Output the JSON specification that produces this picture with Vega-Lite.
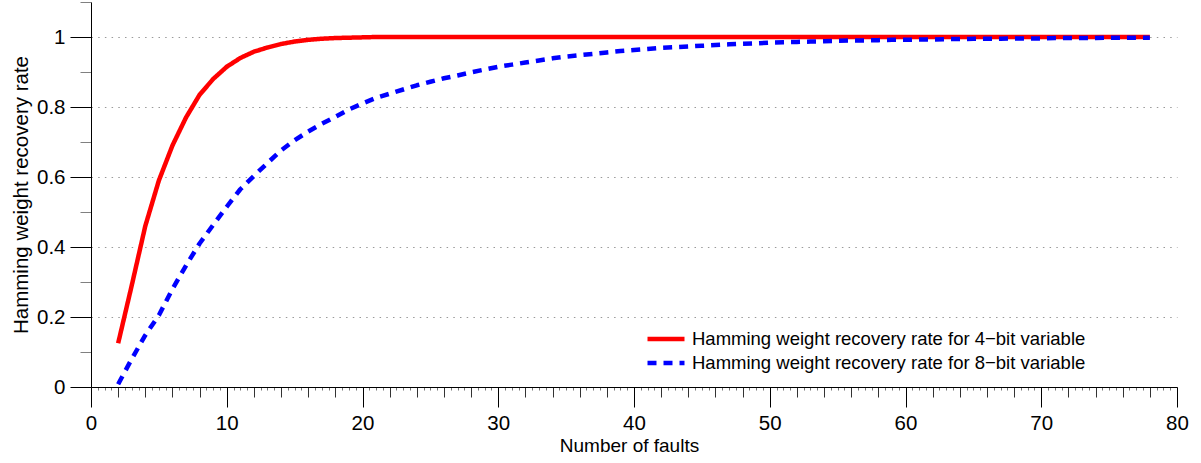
{
  "$schema": "https://vega.github.io/schema/vega-lite/v6.json",
  "width": 1086,
  "height": 385,
  "autosize": {"type": "none"},
  "padding": {"left": 91, "top": 2, "right": 24, "bottom": 76},
  "background": "white",
  "config": {
    "view": {"stroke": null},
    "font": "Liberation Sans",
    "axis": {
      "labelFont": "Liberation Sans",
      "titleFont": "Liberation Sans",
      "labelColor": "#000",
      "titleColor": "#000",
      "titleFontWeight": "normal",
      "domainColor": "#000",
      "domainWidth": 1,
      "tickWidth": 1
    },
    "legend": {
      "orient": "none",
      "legendX": 554,
      "legendY": 325,
      "padding": 0,
      "rowPadding": 0,
      "clipHeight": 24,
      "symbolType": "stroke",
      "symbolSize": 1369,
      "symbolStrokeWidth": 4.5,
      "labelOffset": 5,
      "labelFontSize": 18.5,
      "labelFont": "Liberation Sans",
      "labelColor": "#000",
      "labelLimit": 600
    }
  },
  "data": {
    "values": [
      {"faults": 2, "r4": 0.125, "r8": 0.008},
      {"faults": 3, "r4": 0.29, "r8": 0.08},
      {"faults": 4, "r4": 0.46, "r8": 0.148},
      {"faults": 5, "r4": 0.59, "r8": 0.205},
      {"faults": 6, "r4": 0.69, "r8": 0.28},
      {"faults": 7, "r4": 0.77, "r8": 0.347},
      {"faults": 8, "r4": 0.835, "r8": 0.41},
      {"faults": 9, "r4": 0.88, "r8": 0.463},
      {"faults": 10, "r4": 0.915, "r8": 0.515},
      {"faults": 11, "r4": 0.94, "r8": 0.565},
      {"faults": 12, "r4": 0.958, "r8": 0.603},
      {"faults": 13, "r4": 0.97, "r8": 0.64},
      {"faults": 14, "r4": 0.98, "r8": 0.676},
      {"faults": 15, "r4": 0.987, "r8": 0.705},
      {"faults": 16, "r4": 0.992, "r8": 0.73},
      {"faults": 17, "r4": 0.995, "r8": 0.752},
      {"faults": 18, "r4": 0.997, "r8": 0.772},
      {"faults": 19, "r4": 0.998, "r8": 0.793},
      {"faults": 20, "r4": 0.999, "r8": 0.81},
      {"faults": 21, "r4": 1.0, "r8": 0.826},
      {"faults": 22, "r4": 1.0, "r8": 0.838},
      {"faults": 23, "r4": 1.0, "r8": 0.85},
      {"faults": 24, "r4": 1.0, "r8": 0.862},
      {"faults": 25, "r4": 1.0, "r8": 0.872},
      {"faults": 26, "r4": 1.0, "r8": 0.882},
      {"faults": 27, "r4": 1.0, "r8": 0.89},
      {"faults": 28, "r4": 1.0, "r8": 0.899},
      {"faults": 29, "r4": 1.0, "r8": 0.907},
      {"faults": 30, "r4": 1.0, "r8": 0.915},
      {"faults": 31, "r4": 1.0, "r8": 0.921},
      {"faults": 32, "r4": 1.0, "r8": 0.927},
      {"faults": 33, "r4": 1.0, "r8": 0.933},
      {"faults": 34, "r4": 1.0, "r8": 0.939},
      {"faults": 35, "r4": 1.0, "r8": 0.944},
      {"faults": 36, "r4": 1.0, "r8": 0.948},
      {"faults": 37, "r4": 1.0, "r8": 0.952},
      {"faults": 38, "r4": 1.0, "r8": 0.956},
      {"faults": 39, "r4": 1.0, "r8": 0.96},
      {"faults": 40, "r4": 1.0, "r8": 0.963},
      {"faults": 41, "r4": 1.0, "r8": 0.966},
      {"faults": 42, "r4": 1.0, "r8": 0.969},
      {"faults": 43, "r4": 1.0, "r8": 0.971},
      {"faults": 44, "r4": 1.0, "r8": 0.973},
      {"faults": 45, "r4": 1.0, "r8": 0.975},
      {"faults": 46, "r4": 1.0, "r8": 0.977},
      {"faults": 47, "r4": 1.0, "r8": 0.979},
      {"faults": 48, "r4": 1.0, "r8": 0.981},
      {"faults": 49, "r4": 1.0, "r8": 0.982},
      {"faults": 50, "r4": 1.0, "r8": 0.984},
      {"faults": 51, "r4": 1.0, "r8": 0.985},
      {"faults": 52, "r4": 1.0, "r8": 0.986},
      {"faults": 53, "r4": 1.0, "r8": 0.987},
      {"faults": 54, "r4": 1.0, "r8": 0.988},
      {"faults": 55, "r4": 1.0, "r8": 0.989},
      {"faults": 56, "r4": 1.0, "r8": 0.99},
      {"faults": 57, "r4": 1.0, "r8": 0.99},
      {"faults": 58, "r4": 1.0, "r8": 0.991},
      {"faults": 59, "r4": 1.0, "r8": 0.992},
      {"faults": 60, "r4": 1.0, "r8": 0.992},
      {"faults": 61, "r4": 1.0, "r8": 0.993},
      {"faults": 62, "r4": 1.0, "r8": 0.993},
      {"faults": 63, "r4": 1.0, "r8": 0.994},
      {"faults": 64, "r4": 1.0, "r8": 0.994},
      {"faults": 65, "r4": 1.0, "r8": 0.995},
      {"faults": 66, "r4": 1.0, "r8": 0.995},
      {"faults": 67, "r4": 1.0, "r8": 0.995},
      {"faults": 68, "r4": 1.0, "r8": 0.996},
      {"faults": 69, "r4": 1.0, "r8": 0.996},
      {"faults": 70, "r4": 1.0, "r8": 0.996},
      {"faults": 71, "r4": 1.0, "r8": 0.997},
      {"faults": 72, "r4": 1.0, "r8": 0.997},
      {"faults": 73, "r4": 1.0, "r8": 0.997},
      {"faults": 74, "r4": 1.0, "r8": 0.997},
      {"faults": 75, "r4": 1.0, "r8": 0.998},
      {"faults": 76, "r4": 1.0, "r8": 0.998},
      {"faults": 77, "r4": 1.0, "r8": 0.998},
      {"faults": 78, "r4": 1.0, "r8": 0.998}
    ]
  },
  "transform": [
    {"fold": ["r4", "r8"], "as": ["series", "rate"]}
  ],
  "resolve": {"axis": {"x": "independent", "y": "independent"}},
  "layer": [
    {
      "mark": {"type": "line", "opacity": 0},
      "encoding": {
        "x": {
          "field": "faults", "type": "quantitative",
          "axis": {
            "orient": "bottom", "title": null, "labels": false, "domain": false, "grid": false,
            "values": [0.5, 1, 1.5, 2.5, 3, 3.5, 4.5, 5, 5.5, 6.5, 7, 7.5, 8.5, 9, 9.5,
                       10.5, 11, 11.5, 12.5, 13, 13.5, 14.5, 15, 15.5, 16.5, 17, 17.5, 18.5, 19, 19.5,
                       20.5, 21, 21.5, 22.5, 23, 23.5, 24.5, 25, 25.5, 26.5, 27, 27.5, 28.5, 29, 29.5,
                       30.5, 31, 31.5, 32.5, 33, 33.5, 34.5, 35, 35.5, 36.5, 37, 37.5, 38.5, 39, 39.5,
                       40.5, 41, 41.5, 42.5, 43, 43.5, 44.5, 45, 45.5, 46.5, 47, 47.5, 48.5, 49, 49.5,
                       50.5, 51, 51.5, 52.5, 53, 53.5, 54.5, 55, 55.5, 56.5, 57, 57.5, 58.5, 59, 59.5,
                       60.5, 61, 61.5, 62.5, 63, 63.5, 64.5, 65, 65.5, 66.5, 67, 67.5, 68.5, 69, 69.5,
                       70.5, 71, 71.5, 72.5, 73, 73.5, 74.5, 75, 75.5, 76.5, 77, 77.5, 78.5, 79, 79.5],
            "tickSize": 3, "tickColor": "#777"
          }
        },
        "y": {
          "field": "rate", "type": "quantitative",
          "axis": {
            "orient": "left", "title": null, "labels": false, "domain": false, "grid": false,
            "values": [0.1, 0.3, 0.5, 0.7, 0.9, 1.1],
            "tickSize": 11, "tickColor": "#808080"
          }
        }
      }
    },
    {
      "mark": {"type": "line", "opacity": 0},
      "encoding": {
        "x": {
          "field": "faults", "type": "quantitative",
          "axis": {
            "orient": "bottom", "title": null, "labels": false, "domain": false, "grid": false,
            "values": [2, 4, 6, 8, 12, 14, 16, 18, 22, 24, 26, 28, 32, 34, 36, 38,
                       42, 44, 46, 48, 52, 54, 56, 58, 62, 64, 66, 68, 72, 74, 76, 78],
            "tickSize": 10, "tickColor": "#333"
          }
        },
        "y": {
          "field": "rate", "type": "quantitative",
          "axis": null
        }
      }
    },
    {
      "mark": {"type": "line", "strokeWidth": 4.5, "strokeCap": "butt", "strokeJoin": "round"},
      "encoding": {
        "x": {
          "field": "faults", "type": "quantitative",
          "scale": {"domain": [0, 80], "nice": false, "zero": false},
          "axis": {
            "orient": "bottom",
            "values": [0, 10, 20, 30, 40, 50, 60, 70, 80],
            "tickSize": 20, "tickColor": "#000",
            "labelFontSize": 20.5, "labelPadding": 6, "labelFlush": false,
            "title": "Number of faults", "titleFontSize": 19, "titlePadding": 3, "titleX": 538,
            "grid": false
          }
        },
        "y": {
          "field": "rate", "type": "quantitative",
          "scale": {"domain": [0, 1.1], "nice": false, "zero": false},
          "axis": {
            "orient": "left",
            "values": [0, 0.2, 0.4, 0.6, 0.8, 1],
            "format": "~g",
            "tickSize": 21, "tickColor": "#000",
            "labelFontSize": 20.5, "labelPadding": 5, "labelFlush": false,
            "title": "Hamming weight recovery rate", "titleFontSize": 20.5, "titlePadding": 5,
            "grid": true, "gridColor": "#999", "gridDash": [1.5, 5.2], "gridWidth": 1
          }
        },
        "color": {
          "field": "series", "type": "nominal",
          "scale": {"domain": ["r4", "r8"], "range": ["#ff0000", "#0000ff"]},
          "legend": {
            "title": null,
            "labelExpr": "datum.value == 'r4' ? 'Hamming weight recovery rate for 4−bit variable' : 'Hamming weight recovery rate for 8−bit variable'"
          }
        },
        "strokeDash": {
          "field": "series", "type": "nominal",
          "scale": {"domain": ["r4", "r8"], "range": [[1, 0], [9, 7]]},
          "legend": {
            "title": null,
            "labelExpr": "datum.value == 'r4' ? 'Hamming weight recovery rate for 4−bit variable' : 'Hamming weight recovery rate for 8−bit variable'"
          }
        }
      }
    }
  ]
}
